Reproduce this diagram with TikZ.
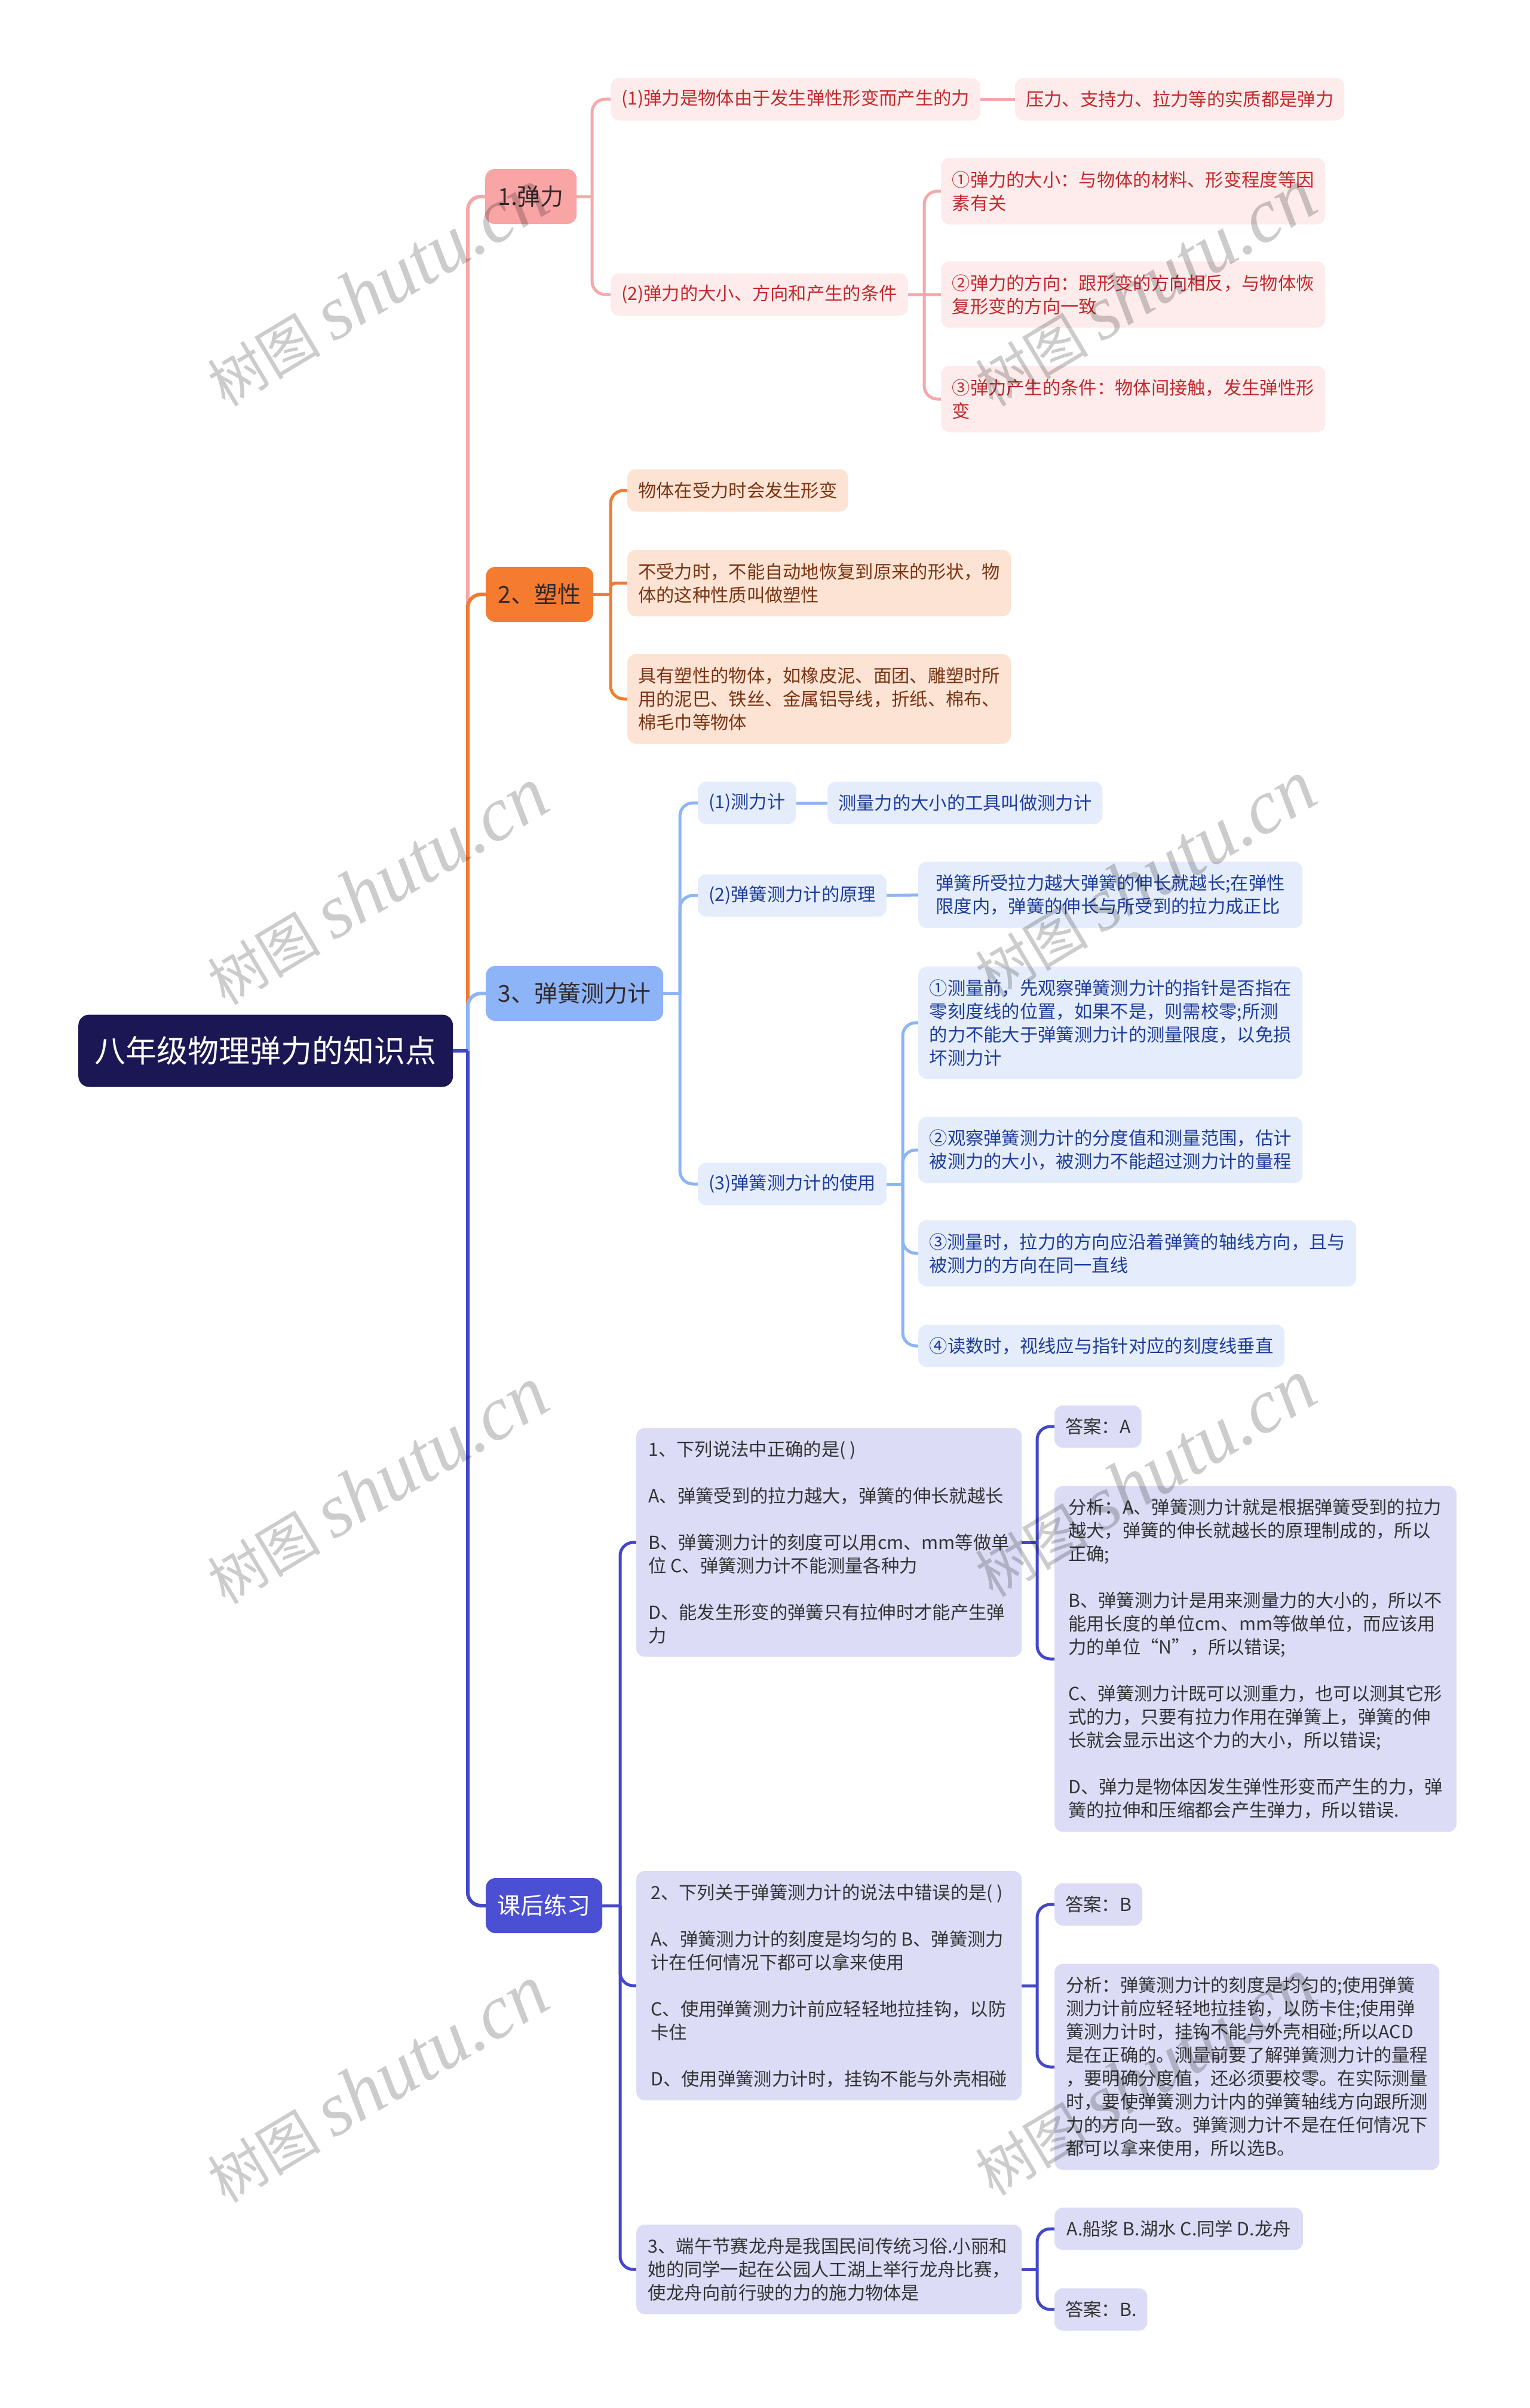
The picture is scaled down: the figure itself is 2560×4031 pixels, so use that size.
\documentclass[tikz,border=0pt]{standalone}
\usepackage{fontspec}
\setmainfont{Noto Sans CJK SC}
\newfontfamily\wmlatin{Liberation Serif}
\usetikzlibrary{backgrounds}
\definecolor{rootfill}{HTML}{1B1754}
\definecolor{pkA}{HTML}{F9A4A5}
\definecolor{pkB}{HTML}{FDECEB}
\definecolor{pkT}{HTML}{C4282D}
\definecolor{pkL}{HTML}{F5A9AA}
\definecolor{orA}{HTML}{F47B30}
\definecolor{orB}{HTML}{FDE3D4}
\definecolor{orT}{HTML}{7A3412}
\definecolor{orL}{HTML}{F07C33}
\definecolor{blA}{HTML}{8CB4F6}
\definecolor{blB}{HTML}{E5EDFC}
\definecolor{blT}{HTML}{1D3C9C}
\definecolor{blL}{HTML}{8DB4F4}
\definecolor{inA}{HTML}{4B4FD4}
\definecolor{inB}{HTML}{DCDCF7}
\definecolor{inT}{HTML}{333333}
\definecolor{inL}{HTML}{4347C8}
\definecolor{lvT}{HTML}{33282A}
\begin{document}
\begin{tikzpicture}[x=1pt,y=-1pt,
  bw/.style={minimum width=#1},
  bh/.style={minimum height=#1},
  base/.style={rounded corners=14pt, inner xsep=18pt, inner ysep=2pt, anchor=west, align=left,
    minimum height=71pt, font=\fontsize{30.3pt}{39pt}\selectfont},
  pk2/.style={base, fill=pkB, text=pkT},
  or2/.style={base, fill=orB, text=orT},
  bl2/.style={base, fill=blB, text=blT},
  in2/.style={base, fill=inB, text=inT},
  lone/.style={rounded corners=16pt, anchor=west, align=center, inner sep=2pt, minimum height=92pt,
    font=\fontsize{39pt}{46pt}\selectfont},
  rootst/.style={rounded corners=18pt, anchor=west, align=center, inner sep=2pt, fill=rootfill, text=white,
    font=\fontsize{52pt}{60pt}\selectfont},
  con/.style={line width=5pt, rounded corners=22pt},
  pkl/.style={con, draw=pkL},
  orl/.style={con, draw=orL},
  bll/.style={con, draw=blL},
  inl/.style={con, draw=inL},
  wm/.style={rotate=31, anchor=base, text=black, text opacity=0.2, inner sep=0pt,
    font=\fontsize{95pt}{100pt}\selectfont}
]
\useasboundingbox (0,0) rectangle (2560,4031);

% root
\node[rootst, minimum width=627pt, minimum height=121pt] (root) at (131,1759) {八年级物理弹力的知识点};

% level 1
\node[lone, fill=pkA, text=lvT, minimum width=153pt] (n1) at (812,329) {1.弹力};
\node[lone, fill=orA, text=lvT, minimum width=180pt] (n2) at (813,995) {2、塑性};
\node[lone, fill=blA, text=lvT, minimum width=297pt] (n3) at (813,1663) {3、弹簧测力计};
\node[lone, fill=inA, text=white, minimum width=195pt] (n4) at (813,3190) {课后练习};

% pink branch
\node[pk2, bw=617pt] (n11) at (1022,166) {(1)弹力是物体由于发生弹性形变而产生的力};
\node[pk2, bw=550pt] (n111) at (1699,166) {压力、支持力、拉力等的实质都是弹力};
\node[pk2, bw=496pt] (n12) at (1022,493) {(2)弹力的大小、方向和产生的条件};
\node[pk2, bw=643pt, bh=111pt] (n121) at (1575,320) {①弹力的大小：与物体的材料、形变程度等因\\素有关};
\node[pk2, bw=643pt, bh=111pt] (n122) at (1575,493) {②弹力的方向：跟形变的方向相反，与物体恢\\复形变的方向一致};
\node[pk2, bw=643pt, bh=111pt] (n123) at (1575,668) {③弹力产生的条件：物体间接触，发生弹性形\\变};

% orange branch
\node[or2, bw=367pt] (n21) at (1050,821) {物体在受力时会发生形变};
\node[or2, bw=642pt, bh=111pt] (n22) at (1050,976) {不受力时，不能自动地恢复到原来的形状，物\\体的这种性质叫做塑性};
\node[or2, bw=642pt, bh=150pt] (n23) at (1050,1170) {具有塑性的物体，如橡皮泥、面团、雕塑时所\\用的泥巴、铁丝、金属铝导线，折纸、棉布、\\棉毛巾等物体};

% blue branch
\node[bl2, bw=160pt] (n31) at (1168,1344) {(1)测力计};
\node[bl2, bw=459pt] (n311) at (1385,1344) {测量力的大小的工具叫做测力计};
\node[bl2, bw=313pt] (n32) at (1168,1499) {(2)弹簧测力计的原理};
\node[bl2, bw=643pt, bh=111pt] (n321) at (1537,1498) {弹簧所受拉力越大弹簧的伸长就越长;在弹性\\限度内，弹簧的伸长与所受到的拉力成正比};
\node[bl2, bw=313pt] (n33) at (1168,1982) {(3)弹簧测力计的使用};
\node[bl2, bw=643pt, bh=188pt] (n331) at (1537,1712) {①测量前，先观察弹簧测力计的指针是否指在\\零刻度线的位置，如果不是，则需校零;所测\\的力不能大于弹簧测力计的测量限度，以免损\\坏测力计};
\node[bl2, bw=643pt, bh=111pt] (n332) at (1537,1925) {②观察弹簧测力计的分度值和测量范围，估计\\被测力的大小，被测力不能超过测力计的量程};
\node[bl2, bw=733pt, bh=111pt] (n333) at (1537,2098) {③测量时，拉力的方向应沿着弹簧的轴线方向，且与\\被测力的方向在同一直线};
\node[bl2, bw=613pt] (n334) at (1537,2253) {④读数时，视线应与指针对应的刻度线垂直};

% indigo branch
\node[in2, bw=645pt, bh=383pt] (q1) at (1065,2582) {1、下列说法中正确的是( )\\[39pt]A、弹簧受到的拉力越大，弹簧的伸长就越长\\[39pt]B、弹簧测力计的刻度可以用cm、mm等做单\\位 C、弹簧测力计不能测量各种力\\[39pt]D、能发生形变的弹簧只有拉伸时才能产生弹\\力};
\node[in2, bw=144pt] (q1a) at (1765,2388) {答案：A};
\node[in2, bw=673pt, bh=579pt] (q1b) at (1765,2777) {分析：A、弹簧测力计就是根据弹簧受到的拉力\\越大，弹簧的伸长就越长的原理制成的，所以\\正确;\\[39pt]B、弹簧测力计是用来测量力的大小的，所以不\\能用长度的单位cm、mm等做单位，而应该用\\力的单位“N”，所以错误;\\[39pt]C、弹簧测力计既可以测重力，也可以测其它形\\式的力，只要有拉力作用在弹簧上，弹簧的伸\\长就会显示出这个力的大小，所以错误;\\[39pt]D、弹力是物体因发生弹性形变而产生的力，弹\\簧的拉伸和压缩都会产生弹力，所以错误.};
\node[in2, bw=645pt, bh=384pt] (q2) at (1065,3324) {2、下列关于弹簧测力计的说法中错误的是( )\\[39pt]A、弹簧测力计的刻度是均匀的 B、弹簧测力\\计在任何情况下都可以拿来使用\\[39pt]C、使用弹簧测力计前应轻轻地拉挂钩，以防\\卡住\\[39pt]D、使用弹簧测力计时，挂钩不能与外壳相碰};
\node[in2, bw=144pt] (q2a) at (1765,3188) {答案：B};
\node[in2, bw=644pt, bh=345pt] (q2b) at (1765,3460) {分析：弹簧测力计的刻度是均匀的;使用弹簧\\测力计前应轻轻地拉挂钩，以防卡住;使用弹\\簧测力计时，挂钩不能与外壳相碰;所以ACD\\是在正确的。测量前要了解弹簧测力计的量程\\，要明确分度值，还必须要校零。在实际测量\\时，要使弹簧测力计内的弹簧轴线方向跟所测\\力的方向一致。弹簧测力计不是在任何情况下\\都可以拿来使用，所以选B。};
\node[in2, bw=645pt, bh=150pt] (q3) at (1065,3799) {3、端午节赛龙舟是我国民间传统习俗.小丽和\\她的同学一起在公园人工湖上举行龙舟比赛，\\使龙舟向前行驶的力的施力物体是};
\node[in2, bw=416pt] (q3a) at (1765,3731) {A.船浆 B.湖水 C.同学 D.龙舟};
\node[in2, bw=149pt] (q3b) at (1765,3866) {答案：B.};

% junction coordinates
\coordinate (t0) at (783,1759);
\coordinate (c1) at (991,329);
\coordinate (c12) at (1547,493);
\coordinate (c2) at (1022,995);
\coordinate (c3) at (1138,1663);
\coordinate (c33) at (1511,1982);
\coordinate (c4) at (1038,3190);
\coordinate (cq1) at (1736,2582);
\coordinate (cq2) at (1736,3324);
\coordinate (cq3) at (1736,3799);

\begin{scope}[on background layer]
  \fill[white] (0,0) rectangle (2560,4031);
  \draw[pkl, line width=6pt] (t0) |- (n1.west);
  \draw[orl, line width=6pt] (t0) |- (n2.west);
  \draw[bll, line width=6pt] (t0) |- (n3.west);
  \draw[inl, line width=6pt] (t0) |- (n4.west);
  \draw[inl, line width=6pt] (root.east) -- (t0);
  % pink
  \draw[pkl] (n1.east) -- (c1);
  \draw[pkl] (c1) |- (n11.west);
  \draw[pkl] (c1) |- (n12.west);
  \draw[pkl] (n11.east) -- (n111.west);
  \draw[pkl] (n12.east) -- (n122.west);
  \draw[pkl] (c12) |- (n121.west);
  \draw[pkl] (c12) |- (n123.west);
  % orange
  \draw[orl] (n2.east) -- (c2);
  \draw[orl] (c2) |- (n21.west);
  \draw[orl, rounded corners=8pt] (c2) |- (n22.west);
  \draw[orl] (c2) |- (n23.west);
  % blue
  \draw[bll] (n3.east) -- (c3);
  \draw[bll] (c3) |- (n31.west);
  \draw[bll] (c3) |- (n32.west);
  \draw[bll] (c3) |- (n33.west);
  \draw[bll] (n31.east) -- (n311.west);
  \draw[bll] (n32.east) -- (n321.west);
  \draw[bll] (n33.east) -- (c33);
  \draw[bll] (c33) |- (n331.west);
  \draw[bll] (c33) |- (n332.west);
  \draw[bll] (c33) |- (n333.west);
  \draw[bll] (c33) |- (n334.west);
  % indigo
  \draw[inl] (n4.east) -- (c4);
  \draw[inl] (c4) |- (q1.west);
  \draw[inl] (c4) |- (q2.west);
  \draw[inl] (c4) |- (q3.west);
  \draw[inl] (q1.east) -- (cq1);
  \draw[inl] (cq1) |- (q1a.west);
  \draw[inl] (cq1) |- (q1b.west);
  \draw[inl] (q2.east) -- (cq2);
  \draw[inl] (cq2) |- (q2a.west);
  \draw[inl] (cq2) |- (q2b.west);
  \draw[inl] (q3.east) -- (cq3);
  \draw[inl] (cq3) |- (q3a.west);
  \draw[inl] (cq3) |- (q3b.west);
\end{scope}

% watermarks
\foreach \i/\wx/\wy in {1/652/517, 2/1937/517, 3/652/1519, 4/1937/1507, 5/652/2522, 6/1937/2510, 7/652/3524, 8/1937/3512}{
  \node[wm] (wm\i) at (\wx,\wy) {树图 {\wmlatin\itshape\fontsize{128pt}{130pt}\selectfont shutu.cn}};
}
\end{tikzpicture}
\end{document}
